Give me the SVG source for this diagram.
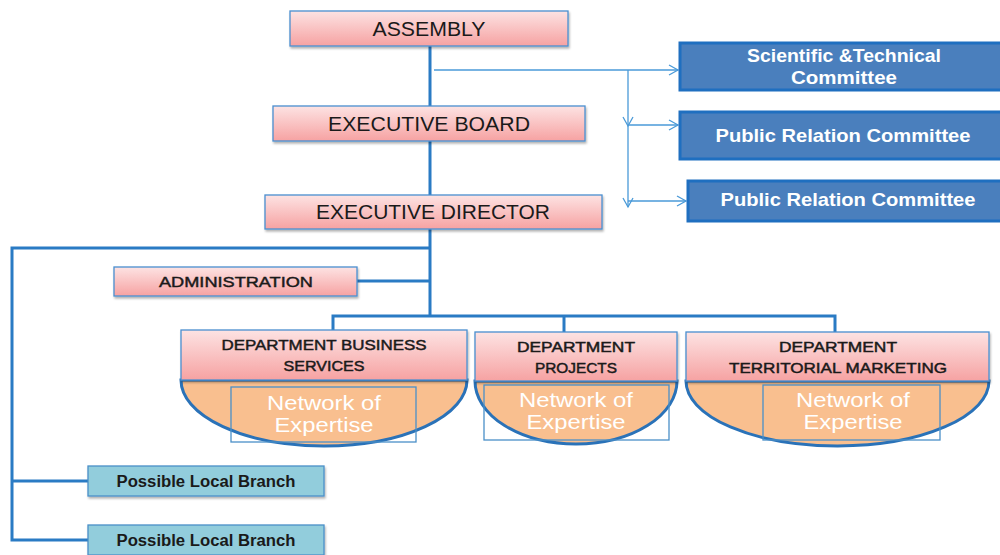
<svg xmlns="http://www.w3.org/2000/svg" width="1000" height="555" viewBox="0 0 1000 555">
<defs>
<linearGradient id="pink" x1="0" y1="0" x2="0" y2="1">
<stop offset="0" stop-color="#fde3e3"/>
<stop offset="1" stop-color="#f6a2a2"/>
</linearGradient>
<filter id="sh" x="-5%" y="-20%" width="110%" height="150%">
<feDropShadow dx="1" dy="2" stdDeviation="1.2" flood-color="#000" flood-opacity="0.3"/>
</filter>
<marker id="arr" markerWidth="12" markerHeight="12" refX="10" refY="6" orient="auto" markerUnits="userSpaceOnUse">
<path d="M1,1 L10,6 L1,11" fill="none" stroke="#4a9ad8" stroke-width="1.3"/>
</marker>
<style>
.pk{fill:url(#pink);stroke:#4a8fd0;stroke-width:1.3;filter:url(#sh)}
.cm{fill:#4a7fbd;stroke:#1f6fc0;stroke-width:3}
.lb{fill:#92cddc;stroke:#4a90c8;stroke-width:1.3;filter:url(#sh)}
.half{fill:#f9bf8f;stroke:#2a72b8;stroke-width:3}
.ne{fill:none;stroke:#4a90c8;stroke-width:1.3}
.t{font-family:"Liberation Sans",Arial,sans-serif;fill:#1a1a1a;text-anchor:middle}
.b{stroke:#1a1a1a;stroke-width:0.45}
.tw{font-family:"Liberation Sans",Arial,sans-serif;fill:#fff;text-anchor:middle;font-weight:bold;font-size:18.5px}
.tn{font-family:"Liberation Sans",Arial,sans-serif;fill:#fff;text-anchor:middle;font-size:20px}
.thick{fill:none;stroke:#2a7bc4;stroke-width:3}
.thin{fill:none;stroke:#4a9ad8;stroke-width:1.3}
</style>
</defs>
<rect width="1000" height="555" fill="#fff"/>
<g id="connectors">
<path class="thick" d="M430,46 V316"/>
<path class="thick" d="M430,248 H12 V540 H88"/>
<path class="thick" d="M12,481 H88"/>
<path class="thick" d="M357,281 H430"/>
<path class="thick" d="M333,330 V316 H835 V332"/>
<path class="thick" d="M564,316 V332"/>
<path class="thin" d="M434,70 H678" marker-end="url(#arr)"/>
<path class="thin" d="M628,70 V126" marker-end="url(#arr)"/>
<path class="thin" d="M628,126 V207" marker-end="url(#arr)"/>
<path class="thin" d="M628,125 H678" marker-end="url(#arr)"/>
<path class="thin" d="M628,201 H686" marker-end="url(#arr)"/>
</g>
<g id="assembly"><rect class="pk" x="290" y="11" width="278" height="35"/><text class="t" x="429" y="36" font-size="20" textLength="113" lengthAdjust="spacingAndGlyphs">ASSEMBLY</text></g>
<g id="executive-board"><rect class="pk" x="273" y="106" width="312" height="35"/><text class="t" x="429" y="131" font-size="20" textLength="202" lengthAdjust="spacingAndGlyphs">EXECUTIVE BOARD</text></g>
<g id="executive-director"><rect class="pk" x="265" y="195" width="337" height="34"/><text class="t" x="433" y="219" font-size="20" textLength="234" lengthAdjust="spacingAndGlyphs">EXECUTIVE DIRECTOR</text></g>
<g id="committee-sci"><rect class="cm" x="680" y="43" width="325" height="47"/><text class="tw" x="844" y="62" textLength="194" lengthAdjust="spacingAndGlyphs">Scientific &amp;Technical</text><text class="tw" x="844" y="84" textLength="106" lengthAdjust="spacingAndGlyphs">Committee</text></g>
<g id="committee-pr1"><rect class="cm" x="680" y="112" width="325" height="47"/><text class="tw" x="843" y="142" textLength="255" lengthAdjust="spacingAndGlyphs">Public Relation  Committee</text></g>
<g id="committee-pr2"><rect class="cm" x="688" y="181" width="317" height="40"/><text class="tw" x="848" y="206" textLength="255" lengthAdjust="spacingAndGlyphs">Public Relation  Committee</text></g>
<g id="administration"><rect class="pk" x="114" y="267" width="243" height="29"/><text class="t b" x="236" y="287" font-size="15" textLength="154" lengthAdjust="spacingAndGlyphs">ADMINISTRATION</text></g>
<g id="dept-business">
<path class="half" d="M181,380 A143,66 0 0 0 467,380 Z"/>
<rect class="pk" x="181" y="330" width="286" height="50"/>
<rect class="ne" x="231" y="387" width="185" height="55"/>
<text class="t b" x="324" y="350" font-size="14" textLength="205" lengthAdjust="spacingAndGlyphs">DEPARTMENT BUSINESS</text>
<text class="t b" x="324" y="371" font-size="14" textLength="81" lengthAdjust="spacingAndGlyphs">SERVICES</text>
<text class="tn" x="324" y="410" textLength="114" lengthAdjust="spacingAndGlyphs">Network of</text>
<text class="tn" x="324" y="432" textLength="99" lengthAdjust="spacingAndGlyphs">Expertise</text>
</g>
<g id="dept-projects">
<path class="half" d="M475,381 A101,63 0 0 0 677,381 Z"/>
<rect class="pk" x="475" y="332" width="202" height="49"/>
<rect class="ne" x="484" y="385" width="185" height="55"/>
<text class="t b" x="576" y="352" font-size="14" textLength="118" lengthAdjust="spacingAndGlyphs">DEPARTMENT</text>
<text class="t b" x="576" y="373" font-size="14" textLength="82" lengthAdjust="spacingAndGlyphs">PROJECTS</text>
<text class="tn" x="576" y="407" textLength="114" lengthAdjust="spacingAndGlyphs">Network of</text>
<text class="tn" x="576" y="429" textLength="99" lengthAdjust="spacingAndGlyphs">Expertise</text>
</g>
<g id="dept-marketing">
<path class="half" d="M686,381 A151.5,65 0 0 0 989,381 Z"/>
<rect class="pk" x="686" y="332" width="303" height="49"/>
<rect class="ne" x="763" y="385" width="177" height="55"/>
<text class="t b" x="838" y="352" font-size="14" textLength="118" lengthAdjust="spacingAndGlyphs">DEPARTMENT</text>
<text class="t b" x="838" y="373" font-size="14" textLength="218" lengthAdjust="spacingAndGlyphs">TERRITORIAL MARKETING</text>
<text class="tn" x="853" y="407" textLength="114" lengthAdjust="spacingAndGlyphs">Network of</text>
<text class="tn" x="853" y="429" textLength="99" lengthAdjust="spacingAndGlyphs">Expertise</text>
</g>
<g id="branch-1"><rect class="lb" x="88" y="466" width="236" height="30"/><text class="t" x="206" y="487" font-size="16" font-weight="bold" textLength="179" lengthAdjust="spacingAndGlyphs">Possible Local Branch</text></g>
<g id="branch-2"><rect class="lb" x="88" y="525" width="236" height="30"/><text class="t" x="206" y="546" font-size="16" font-weight="bold" textLength="179" lengthAdjust="spacingAndGlyphs">Possible Local Branch</text></g>
</svg>
